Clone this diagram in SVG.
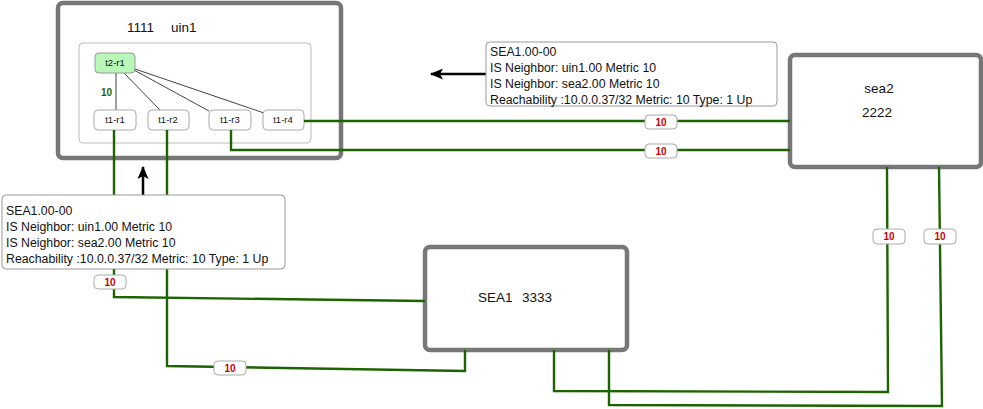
<svg xmlns="http://www.w3.org/2000/svg" width="983" height="409" viewBox="0 0 983 409">
<defs>
<marker id="arr" viewBox="0 0 13 11" refX="12" refY="5.5" markerWidth="13" markerHeight="11" markerUnits="userSpaceOnUse" orient="auto">
<path d="M0,0 L13,5.5 L0,11 L3,5.5 Z" fill="#000"/>
</marker>
</defs>
<style>
text{font-family:"Liberation Sans",Arial,sans-serif;fill:#111}
.big{stroke:#777;stroke-width:4.5;fill:#fff}
.inner{stroke:#bbb;stroke-width:1;fill:#fff}
.nd{stroke:#aaa;stroke-width:1;fill:#fff}
.nd2{stroke:#999;stroke-width:1;fill:#b8f7b8}
.nt{font-size:9.5px;text-anchor:middle}
.title{font-size:13.5px}
.call{stroke:#999;stroke-width:1;fill:#fff}
.ct{font-size:12.3px}
.lk{fill:none;stroke:#1c6400;stroke-width:2.4}
.th{fill:none;stroke:#111;stroke-width:0.8}
.pill{fill:#fff;stroke:#aaa;stroke-width:1}
.pt{font-size:10px;font-weight:bold;fill:#c00;text-anchor:middle}
.ar{stroke:#000;stroke-width:2.5;fill:none}
</style>
<g id="uin1">
<rect class="big" x="58" y="3" width="283" height="155" rx="5"/>
<text class="title" x="127" y="32">1111</text>
<text class="title" x="171" y="32">uin1</text>
<rect class="inner" x="79" y="43" width="232" height="100" rx="4"/>
</g>
<g id="internal-links">
<line class="th" x1="116" y1="73" x2="116" y2="110"/>
<line class="th" x1="124" y1="73" x2="160" y2="110"/>
<line class="th" x1="134" y1="70" x2="209" y2="111"/>
<line class="th" x1="135" y1="69" x2="264" y2="113"/>
<text x="101" y="96" style="font-size:10px;font-weight:bold;fill:#1c6400">10</text>
</g>
<g id="t2-r1"><rect class="nd2" x="95" y="53" width="40" height="20" rx="4"/><text class="nt" x="115" y="66">t2-r1</text></g>
<g id="t1-r1"><rect class="nd" x="94" y="110" width="42" height="20" rx="4"/><text class="nt" x="115" y="123">t1-r1</text></g>
<g id="t1-r2"><rect class="nd" x="148" y="110" width="41" height="20" rx="4"/><text class="nt" x="168" y="123">t1-r2</text></g>
<g id="t1-r3"><rect class="nd" x="209" y="110" width="42" height="20" rx="4"/><text class="nt" x="230" y="123">t1-r3</text></g>
<g id="t1-r4"><rect class="nd" x="263" y="110" width="41" height="20" rx="4"/><text class="nt" x="283" y="123">t1-r4</text></g>
<g id="sea2">
<rect class="big" x="790" y="55" width="191" height="112" rx="5"/>
<text class="title" x="879" y="93" text-anchor="middle">sea2</text>
<text class="title" x="877" y="117" text-anchor="middle">2222</text>
</g>
<g id="SEA1">
<rect class="big" x="425" y="247" width="202" height="103" rx="5"/>
<text class="title" x="478" y="302">SEA1</text>
<text class="title" x="522" y="302">3333</text>
</g>
<g id="connectors">
<polyline class="lk" points="304,121 790,121"/>
<polyline class="lk" points="231,130 231,150 790,150"/>
<polyline class="lk" points="114,130 114,297 425,301"/>
<polyline class="lk" points="167,130 167,366 465,371 465,350"/>
<polyline class="lk" points="554,350 554,391 888,392 887,167"/>
<polyline class="lk" points="609,350 609,405 942,406 939,167"/>
<rect class="pill" x="645" y="115" width="32" height="14" rx="4"/><text class="pt" x="661" y="126">10</text>
<rect class="pill" x="645" y="144" width="32" height="14" rx="4"/><text class="pt" x="661" y="155">10</text>
<rect class="pill" x="94" y="275" width="32" height="14" rx="4"/><text class="pt" x="110" y="286">10</text>
<rect class="pill" x="214" y="361" width="32" height="14" rx="4"/><text class="pt" x="230" y="372">10</text>
<rect class="pill" x="873" y="229" width="32" height="15" rx="4"/><text class="pt" x="889" y="240">10</text>
<rect class="pill" x="924" y="229" width="32" height="15" rx="4"/><text class="pt" x="940" y="240">10</text>
</g>
<g id="callout-top">
<line class="ar" x1="486" y1="74" x2="431" y2="74" marker-end="url(#arr)"/>
<rect class="call" x="486" y="42" width="291" height="64" rx="4"/>
<text class="ct" x="490" y="56">SEA1.00-00</text>
<text class="ct" x="490" y="72">IS Neighbor: uin1.00 Metric 10</text>
<text class="ct" x="490" y="88">IS Neighbor: sea2.00 Metric 10</text>
<text class="ct" x="490" y="104">Reachability :10.0.0.37/32 Metric: 10 Type: 1 Up</text>
</g>
<g id="callout-bottom">
<line class="ar" x1="143" y1="195" x2="143" y2="167" marker-end="url(#arr)"/>
<rect class="call" x="2" y="195" width="283" height="74" rx="4"/>
<text class="ct" x="6" y="215">SEA1.00-00</text>
<text class="ct" x="6" y="231">IS Neighbor: uin1.00 Metric 10</text>
<text class="ct" x="6" y="247">IS Neighbor: sea2.00 Metric 10</text>
<text class="ct" x="6" y="263">Reachability :10.0.0.37/32 Metric: 10 Type: 1 Up</text>
</g>
</svg>
